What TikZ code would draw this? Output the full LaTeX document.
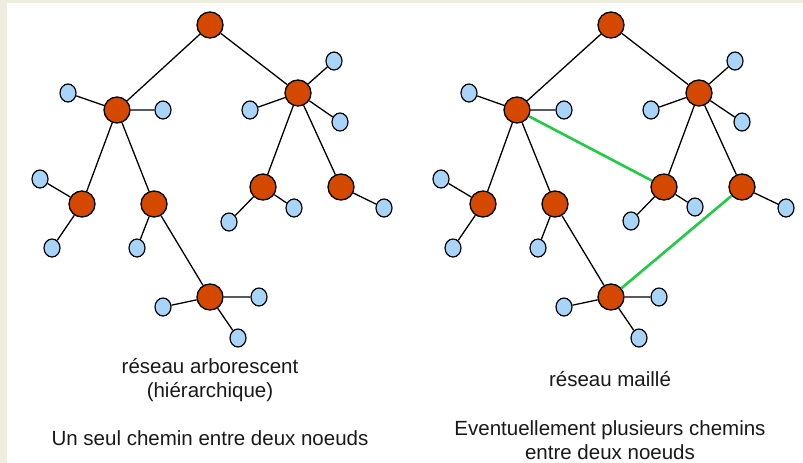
\documentclass[tikz,border=0pt]{standalone}
\usepackage{fontspec}
\setmainfont{Liberation Sans}
\usetikzlibrary{shapes.geometric}
\definecolor{hubc}{HTML}{D54800}
\definecolor{leafc}{HTML}{A9D4FA}
\definecolor{meshc}{HTML}{1FCC44}
\definecolor{bgc}{HTML}{EEEDDF}
\begin{document}
\begin{tikzpicture}[x=1pt,y=-1pt,
  hub/.style={circle,draw=black,line width=1.3pt,fill=hubc,minimum size=26pt,inner sep=0pt},
  leaf/.style={ellipse,draw=black,line width=1.2pt,fill=leafc,minimum width=16pt,minimum height=18pt,inner sep=0pt},
  link/.style={draw=black,line width=1.3pt},
  mesh/.style={draw=meshc,line width=2.6pt},
  lbl/.style={font=\fontsize{20.5}{24}\selectfont,align=center,text=black!90}]
\useasboundingbox (0,0) rectangle (803,463);
\fill[white] (0,0) rectangle (803,463);
\fill[bgc] (0,0) rectangle (7,463);
\fill[bgc] (0,0) rectangle (803,2.5);
% ---------- left tree ----------
\node[hub] (lR) at (210,25) {};
\node[hub] (lA) at (117,110) {};
\node[hub] (lB) at (298,93) {};
\node[hub] (lC) at (82,204) {};
\node[hub] (lD) at (154,204) {};
\node[hub] (lE) at (210,297) {};
\node[hub] (lF) at (263,187) {};
\node[hub] (lG) at (341,187) {};
\node[leaf] (la1) at (68,93) {};
\node[leaf] (la2) at (163,110) {};
\node[leaf] (lb1) at (250,110) {};
\node[leaf] (lb2) at (334,61) {};
\node[leaf] (lb3) at (340,122) {};
\node[leaf] (lc1) at (40,179) {};
\node[leaf] (lc2) at (52,248) {};
\node[leaf] (ld1) at (137,248) {};
\node[leaf] (le1) at (163,307) {};
\node[leaf] (le2) at (259,297) {};
\node[leaf] (le3) at (238,338) {};
\node[leaf] (lf1) at (229,222) {};
\node[leaf] (lf2) at (294,208) {};
\node[leaf] (lg1) at (384,208) {};
\path[link] (lR)--(lA) (lR)--(lB) (lA)--(lC) (lA)--(lD) (lD)--(lE)
  (lB)--(lF) (lB)--(lG)
  (lA)--(la1) (lA)--(la2) (lB)--(lb1) (lB)--(lb2) (lB)--(lb3)
  (lC)--(lc1) (lC)--(lc2) (lD)--(ld1) (lE)--(le1) (lE)--(le2) (lE)--(le3)
  (lF)--(lf1) (lF)--(lf2) (lG)--(lg1);
% ---------- right tree ----------
\node[hub] (rR) at (611,25) {};
\node[hub] (rA) at (517,110) {};
\node[hub] (rB) at (699,93) {};
\node[hub] (rC) at (483,204) {};
\node[hub] (rD) at (555,204) {};
\node[hub] (rE) at (611,297) {};
\node[hub] (rF) at (664,187) {};
\node[hub] (rG) at (742,187) {};
\node[leaf] (ra1) at (469,93) {};
\node[leaf] (ra2) at (564,110) {};
\node[leaf] (rb1) at (651,110) {};
\node[leaf] (rb2) at (735,61) {};
\node[leaf] (rb3) at (742,122) {};
\node[leaf] (rc1) at (441,179) {};
\node[leaf] (rc2) at (453,248) {};
\node[leaf] (rd1) at (538,248) {};
\node[leaf] (re1) at (564,307) {};
\node[leaf] (re2) at (659,297) {};
\node[leaf] (re3) at (639,338) {};
\node[leaf] (rf1) at (631,221) {};
\node[leaf] (rf2) at (695,207) {};
\node[leaf] (rg1) at (786,208) {};
\path[link] (rR)--(rA) (rR)--(rB) (rA)--(rC) (rA)--(rD) (rD)--(rE)
  (rB)--(rF) (rB)--(rG)
  (rA)--(ra1) (rA)--(ra2) (rB)--(rb1) (rB)--(rb2) (rB)--(rb3)
  (rC)--(rc1) (rC)--(rc2) (rD)--(rd1) (rE)--(re1) (rE)--(re2) (rE)--(re3)
  (rF)--(rf1) (rF)--(rf2) (rG)--(rg1);
\path[mesh] (rA)--(rF) (rG)--(rE);
% ---------- labels ----------
\node[lbl] (t1) at (210,380) {réseau arborescent\\(hiérarchique)};
\node[lbl] (t2) at (210,438) {Un seul chemin entre deux noeuds};
\node[lbl] (t3) at (610,379) {réseau maillé};
\node[lbl] (t4) at (610,440) {Eventuellement plusieurs chemins\\entre deux noeuds};
\end{tikzpicture}
\end{document}
